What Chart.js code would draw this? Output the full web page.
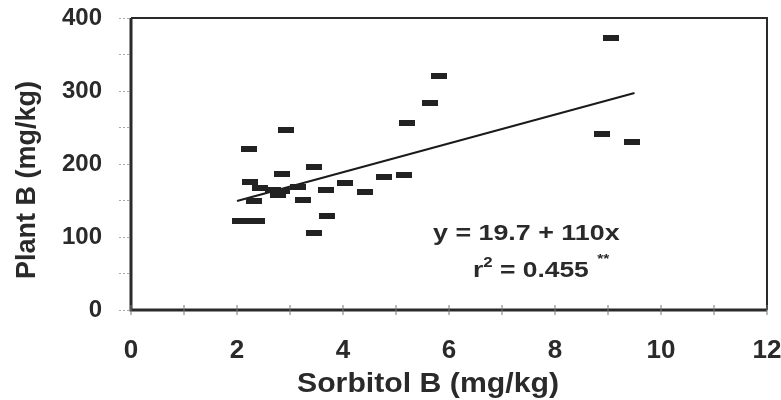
<!DOCTYPE html>
<html>
<head>
<meta charset="utf-8">
<script src="https://cdn.jsdelivr.net/npm/chart.js@4"></script>
<style>
  html, body { margin: 0; padding: 0; background: #ffffff; }
  #wrap { width: 781px; height: 400px; }
</style>
</head>
<body>
<div id="wrap"><canvas id="chart"></canvas></div>
<script>
// Sorbitol B vs Plant B
const sorbitolB = [2.05, 2.22, 2.38, 2.22, 2.24, 2.33, 2.43, 2.68, 2.78, 2.85, 2.84, 2.92, 3.16, 3.25,
                   3.45, 3.46, 3.68, 3.70, 4.04, 4.42, 4.78, 5.15, 5.21, 5.65, 5.82, 8.89, 9.05, 9.46];
const plantB = [122, 122, 122, 220, 175, 150, 167, 165, 158, 163, 186, 246, 168, 151,
                196, 106, 165, 129, 174, 161, 182, 185, 256, 284, 321, 241, 372, 230];

// regression line as drawn (ends at the data range)
const fitRange = [2.0, 9.5];
const fitIntercept = 110;
const fitSlope = 19.7;

const xTicks = [0, 2, 4, 6, 8, 10, 12];
const yTicks = [0, 100, 200, 300, 400];

const xTitle = 'Sorbitol B (mg/kg)';
const yTitle = 'Plant B (mg/kg)';

const ink = '#2a2a2a';
const family = '"Liberation Sans", Arial, sans-serif';

// dash-shaped marker
const marker = document.createElement('canvas');
marker.width = 16;
marker.height = 6;
const mctx = marker.getContext('2d');
mctx.fillStyle = '#222222';
mctx.fillRect(0, 0, 16, 6);

const points = sorbitolB.map((x, i) => ({ x: x, y: plantB[i] }));
const fitLine = fitRange.map(x => ({ x: x, y: fitIntercept + fitSlope * x }));

// box round the plot area, axis titles and the equation text
const framePlugin = {
    id: 'frame',
    afterDatasetsDraw(chart) {
        const { ctx, chartArea: a, scales } = chart;
        ctx.save();
        ctx.strokeStyle = ink;
        ctx.lineWidth = 2;
        ctx.beginPath();
        ctx.moveTo(a.left, a.top);
        ctx.lineTo(a.right, a.top);
        ctx.lineTo(a.right, a.bottom);
        ctx.stroke();
        ctx.lineWidth = 3;
        ctx.beginPath();
        ctx.moveTo(a.left, a.top);
        ctx.lineTo(a.left, a.bottom);
        ctx.lineTo(a.right, a.bottom);
        ctx.stroke();

        // small tick marks crossing the x axis
        ctx.lineWidth = 1;
        ctx.strokeStyle = '#777';
        for (let v = 0; v <= 12; v++) {
            const px = scales.x.getPixelForValue(v);
            ctx.beginPath();
            ctx.moveTo(px, a.bottom - 5);
            ctx.lineTo(px, a.bottom + 5);
            ctx.stroke();
        }

        ctx.fillStyle = ink;
        ctx.textBaseline = 'alphabetic';

        // axis titles
        ctx.save();
        ctx.font = 'bold 28px ' + family;
        ctx.textAlign = 'center';
        ctx.translate(428, 392);
        ctx.scale(1.08, 1);
        ctx.fillText(xTitle, 0, 0);
        ctx.restore();

        ctx.save();
        ctx.font = 'bold 27px ' + family;
        ctx.textAlign = 'center';
        ctx.translate(35, 180);
        ctx.rotate(-Math.PI / 2);
        ctx.fillText(yTitle, 0, 0);
        ctx.restore();

        // equation
        ctx.save();
        ctx.textAlign = 'left';
        ctx.translate(433, 240);
        ctx.scale(1.22, 1);
        ctx.font = 'bold 22px ' + family;
        ctx.fillText('y = 19.7 + 110x', 0, 0);
        ctx.restore();

        ctx.save();
        ctx.textAlign = 'left';
        ctx.translate(473, 277);
        ctx.scale(1.2, 1);
        ctx.font = 'bold 22px ' + family;
        ctx.fillText('r', 0, 0);
        let w = ctx.measureText('r').width;
        ctx.font = 'bold 14px ' + family;
        ctx.fillText('2', w, -10);
        w += ctx.measureText('2').width;
        ctx.font = 'bold 22px ' + family;
        ctx.fillText(' = 0.455', w, 0);
        w += ctx.measureText(' = 0.455').width;
        ctx.font = 'bold 13px ' + family;
        ctx.fillText('**', w + 7, -14);
        ctx.restore();

        ctx.restore();
    }
};

new Chart(document.getElementById('chart'), {
    type: 'scatter',
    data: {
        datasets: [{
            label: 'Plant B',
            data: points,
            pointStyle: marker,
            pointRadius: 8,
            pointHoverRadius: 8
        }, {
            type: 'line',
            label: 'fit',
            data: fitLine,
            borderColor: '#1a1a1a',
            borderWidth: 2,
            pointRadius: 0,
            fill: false
        }]
    },
    options: {
        responsive: true,
        maintainAspectRatio: false,
        animation: false,
        layout: { padding: { top: 18, right: 14, left: 0, bottom: 0 } },
        plugins: {
            legend: { display: false },
            tooltip: { enabled: false }
        },
        scales: {
            x: {
                type: 'linear',
                min: 0,
                max: 12,
                afterFit: s => { s.height = 90; s.paddingLeft = 0; s.paddingRight = 0; },
                border: { display: false },
                grid: { drawOnChartArea: false, drawTicks: true, tickLength: 8, color: 'rgba(0,0,0,0)' },
                ticks: {
                    stepSize: 1,
                    autoSkip: false,
                    maxRotation: 0,
                    padding: 17,
                    color: ink,
                    font: { family: family, weight: 'bold', size: 26 },
                    callback: v => xTicks.includes(v) ? String(v) : ''
                }
            },
            y: {
                type: 'linear',
                min: 0,
                max: 400,
                afterFit: s => { s.width = 131; s.paddingTop = 0; s.paddingBottom = 0; },
                border: { display: false },
                grid: { drawOnChartArea: false, drawTicks: true, tickLength: 12, color: '#aaaaaa', tickBorderDash: [2, 2] },
                ticks: {
                    stepSize: 50,
                    autoSkip: false,
                    padding: 17,
                    color: ink,
                    font: { family: family, weight: 'bold', size: 24 },
                    callback: v => yTicks.includes(v) ? String(v) : ''
                }
            }
        }
    },
    plugins: [framePlugin]
});
</script>
</body>
</html>
